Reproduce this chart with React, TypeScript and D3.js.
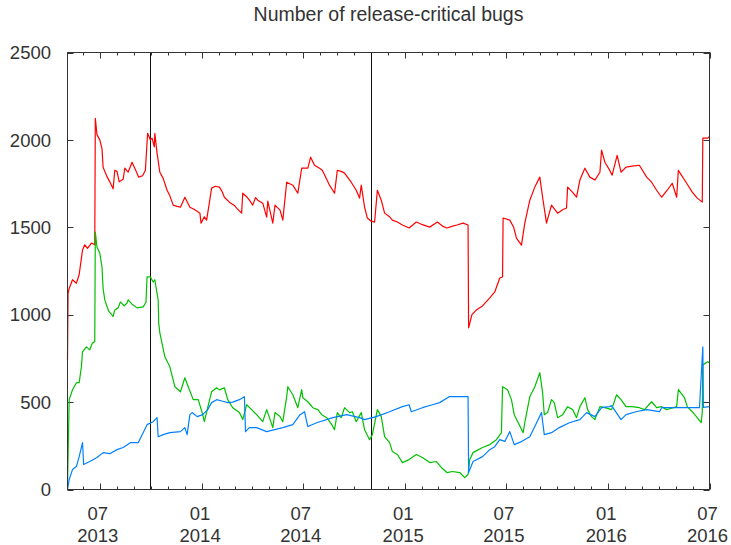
import { useEffect, useRef } from "react";
import * as d3 from "d3";

const WIDTH = 731;
const HEIGHT = 545;
const MARGIN = { top: 52.5, right: 21.5, bottom: 55.5, left: 67.5 };
const FONT = "'Liberation Sans', Arial, sans-serif";

const TITLE = "Number of release-critical bugs";
const X_DOMAIN = ["2013-05-04", "2016-07-01"];
const Y_TICKS = [0, 500, 1000, 1500, 2000, 2500];
// dates of the two black vertical markers
const MARKERS = ["2013-09-30", "2014-10-31"];

type Pt = [string, number];

// release-critical bug counts
const RED: Pt[] = [
  ["2013-05-04", 740], ["2013-05-05", 1120], ["2013-05-07", 1150], ["2013-05-13", 1200],
  ["2013-05-20", 1180], ["2013-05-25", 1230], ["2013-05-31", 1370], ["2013-06-04", 1400],
  ["2013-06-09", 1380], ["2013-06-16", 1410], ["2013-06-22", 1400], ["2013-06-23", 2123],
  ["2013-06-26", 2030], ["2013-07-01", 2000], ["2013-07-05", 1950], ["2013-07-07", 1844],
  ["2013-07-14", 1790], ["2013-07-19", 1760], ["2013-07-25", 1720], ["2013-07-28", 1826],
  ["2013-08-01", 1820], ["2013-08-05", 1760], ["2013-08-12", 1775], ["2013-08-15", 1838],
  ["2013-08-21", 1815], ["2013-08-28", 1872], ["2013-09-03", 1830], ["2013-09-09", 1787],
  ["2013-09-16", 1795], ["2013-09-21", 1826], ["2013-09-25", 2038], ["2013-09-30", 2000],
  ["2013-10-03", 2010], ["2013-10-07", 1960], ["2013-10-08", 2038], ["2013-10-12", 1924],
  ["2013-10-17", 1815], ["2013-10-23", 1780], ["2013-10-30", 1712], ["2013-11-04", 1680],
  ["2013-11-10", 1627], ["2013-11-17", 1620], ["2013-11-23", 1615], ["2013-12-01", 1672],
  ["2013-12-10", 1615], ["2013-12-19", 1600], ["2013-12-28", 1581], ["2013-12-30", 1524],
  ["2014-01-05", 1560], ["2014-01-09", 1541], ["2014-01-14", 1640], ["2014-01-18", 1724],
  ["2014-01-25", 1735], ["2014-02-01", 1730], ["2014-02-05", 1710], ["2014-02-10", 1672],
  ["2014-02-19", 1644], ["2014-02-28", 1625], ["2014-03-04", 1610], ["2014-03-13", 1581],
  ["2014-03-15", 1695], ["2014-03-22", 1675], ["2014-03-27", 1655], ["2014-04-02", 1627],
  ["2014-04-07", 1670], ["2014-04-11", 1655], ["2014-04-20", 1638], ["2014-04-27", 1558],
  ["2014-04-29", 1650], ["2014-05-04", 1580], ["2014-05-08", 1524], ["2014-05-12", 1627],
  ["2014-05-21", 1598], ["2014-05-26", 1541], ["2014-06-02", 1758], ["2014-06-13", 1741],
  ["2014-06-22", 1695], ["2014-06-29", 1838], ["2014-07-10", 1838], ["2014-07-15", 1901],
  ["2014-07-22", 1855], ["2014-07-31", 1838], ["2014-08-05", 1826], ["2014-08-12", 1780],
  ["2014-08-18", 1741], ["2014-08-27", 1695], ["2014-09-01", 1826], ["2014-09-08", 1820],
  ["2014-09-14", 1810], ["2014-09-26", 1758], ["2014-10-05", 1712], ["2014-10-11", 1667],
  ["2014-10-14", 1741], ["2014-10-20", 1615], ["2014-10-25", 1553], ["2014-11-01", 1535],
  ["2014-11-07", 1530], ["2014-11-12", 1712], ["2014-11-19", 1655], ["2014-11-25", 1581],
  ["2014-12-04", 1560], ["2014-12-09", 1541], ["2014-12-18", 1530], ["2014-12-27", 1513],
  ["2015-01-08", 1496], ["2015-01-21", 1530], ["2015-02-01", 1515], ["2015-02-14", 1501],
  ["2015-02-28", 1530], ["2015-03-10", 1505], ["2015-03-17", 1496], ["2015-03-26", 1505],
  ["2015-04-04", 1513], ["2015-04-15", 1524], ["2015-04-24", 1513], ["2015-04-25", 925],
  ["2015-05-01", 1000], ["2015-05-10", 1030], ["2015-05-20", 1050], ["2015-06-02", 1096],
  ["2015-06-11", 1130], ["2015-06-20", 1210], ["2015-06-25", 1216], ["2015-06-26", 1553],
  ["2015-07-08", 1541], ["2015-07-15", 1500], ["2015-07-20", 1438], ["2015-07-29", 1398],
  ["2015-08-04", 1524], ["2015-08-13", 1655], ["2015-08-22", 1730], ["2015-08-31", 1787],
  ["2015-09-05", 1672], ["2015-09-12", 1524], ["2015-09-21", 1627], ["2015-10-02", 1581],
  ["2015-10-11", 1600], ["2015-10-18", 1610], ["2015-10-20", 1730], ["2015-10-29", 1700],
  ["2015-11-05", 1672], ["2015-11-11", 1770], ["2015-11-20", 1838], ["2015-11-29", 1787],
  ["2015-12-08", 1770], ["2015-12-17", 1815], ["2015-12-20", 1941], ["2015-12-26", 1872],
  ["2016-01-03", 1830], ["2016-01-08", 1798], ["2016-01-17", 1912], ["2016-01-24", 1815],
  ["2016-02-02", 1844], ["2016-02-13", 1850], ["2016-02-26", 1855], ["2016-03-10", 1787],
  ["2016-03-19", 1758], ["2016-03-28", 1712], ["2016-04-06", 1672], ["2016-04-16", 1712],
  ["2016-04-25", 1752], ["2016-05-03", 1672], ["2016-05-06", 1826], ["2016-05-21", 1752],
  ["2016-05-31", 1701], ["2016-06-09", 1667], ["2016-06-18", 1644], ["2016-06-19", 2010],
  ["2016-06-28", 2010], ["2016-07-01", 2020],
];

const GREEN: Pt[] = [
  ["2013-05-04", 20], ["2013-05-05", 180], ["2013-05-07", 514], ["2013-05-13", 571],
  ["2013-05-20", 611], ["2013-05-25", 611], ["2013-05-29", 702], ["2013-05-31", 788],
  ["2013-06-07", 816], ["2013-06-13", 799], ["2013-06-18", 839], ["2013-06-22", 845],
  ["2013-06-23", 1473], ["2013-06-26", 1387], ["2013-07-01", 1353], ["2013-07-05", 1273],
  ["2013-07-07", 1150], ["2013-07-10", 1085], ["2013-07-17", 1020], ["2013-07-25", 990],
  ["2013-07-28", 1027], ["2013-08-03", 1039], ["2013-08-07", 1073], ["2013-08-14", 1050],
  ["2013-08-19", 1067], ["2013-08-21", 1085], ["2013-08-28", 1060], ["2013-09-06", 1039],
  ["2013-09-17", 1045], ["2013-09-22", 1070], ["2013-09-24", 1216], ["2013-09-30", 1216],
  ["2013-10-05", 1187], ["2013-10-08", 1200], ["2013-10-12", 1120], ["2013-10-14", 1085],
  ["2013-10-15", 950], ["2013-10-17", 896], ["2013-10-26", 759], ["2013-11-04", 702],
  ["2013-11-13", 588], ["2013-11-23", 559], ["2013-12-01", 639], ["2013-12-07", 588],
  ["2013-12-16", 514], ["2013-12-25", 514], ["2014-01-01", 440], ["2014-01-05", 388],
  ["2014-01-11", 468], ["2014-01-18", 559], ["2014-01-27", 582], ["2014-02-01", 570],
  ["2014-02-10", 582], ["2014-02-16", 514], ["2014-02-25", 468], ["2014-03-09", 440],
  ["2014-03-15", 400], ["2014-03-22", 485], ["2014-03-31", 457], ["2014-04-09", 428],
  ["2014-04-20", 388], ["2014-04-27", 457], ["2014-05-02", 411], ["2014-05-08", 354],
  ["2014-05-12", 440], ["2014-05-21", 418], ["2014-05-26", 388], ["2014-06-02", 531],
  ["2014-06-04", 588], ["2014-06-13", 542], ["2014-06-22", 468], ["2014-06-29", 571],
  ["2014-07-01", 525], ["2014-07-10", 502], ["2014-07-19", 468], ["2014-07-28", 457],
  ["2014-08-04", 428], ["2014-08-13", 411], ["2014-08-22", 371], ["2014-08-27", 342],
  ["2014-09-01", 440], ["2014-09-08", 411], ["2014-09-14", 468], ["2014-09-23", 440],
  ["2014-09-28", 445], ["2014-10-05", 388], ["2014-10-14", 440], ["2014-10-20", 342],
  ["2014-10-29", 285], ["2014-11-03", 314], ["2014-11-12", 457], ["2014-11-19", 417],
  ["2014-11-25", 302], ["2014-12-04", 268], ["2014-12-09", 217], ["2014-12-18", 200],
  ["2014-12-27", 154], ["2015-01-08", 171], ["2015-01-21", 200], ["2015-02-01", 183],
  ["2015-02-14", 154], ["2015-02-26", 160], ["2015-03-07", 126], ["2015-03-17", 97],
  ["2015-03-27", 103], ["2015-04-09", 97], ["2015-04-18", 68], ["2015-04-24", 86],
  ["2015-04-27", 171], ["2015-05-03", 211], ["2015-05-20", 240], ["2015-06-02", 257],
  ["2015-06-14", 285], ["2015-06-23", 325], ["2015-06-25", 588], ["2015-07-04", 571],
  ["2015-07-11", 514], ["2015-07-16", 428], ["2015-07-25", 371], ["2015-08-01", 325],
  ["2015-08-04", 382], ["2015-08-13", 531], ["2015-08-22", 588], ["2015-08-31", 668],
  ["2015-09-05", 554], ["2015-09-08", 428], ["2015-09-14", 440], ["2015-09-21", 514],
  ["2015-09-26", 497], ["2015-10-02", 411], ["2015-10-11", 428], ["2015-10-20", 474],
  ["2015-10-29", 457], ["2015-11-05", 411], ["2015-11-11", 474], ["2015-11-20", 525],
  ["2015-11-25", 457], ["2015-12-02", 417], ["2015-12-08", 400], ["2015-12-17", 474],
  ["2015-12-26", 468], ["2016-01-07", 457], ["2016-01-16", 542], ["2016-01-24", 514],
  ["2016-02-02", 474], ["2016-02-13", 474], ["2016-02-26", 468], ["2016-03-06", 457],
  ["2016-03-19", 502], ["2016-03-28", 468], ["2016-04-06", 474], ["2016-04-15", 457],
  ["2016-04-24", 465], ["2016-05-03", 474], ["2016-05-06", 571], ["2016-05-17", 525],
  ["2016-05-22", 474], ["2016-05-31", 445], ["2016-06-09", 411], ["2016-06-16", 382],
  ["2016-06-18", 440], ["2016-06-19", 713], ["2016-06-28", 731], ["2016-07-01", 725],
];

const BLUE: Pt[] = [
  ["2013-05-04", 0], ["2013-05-07", 57], ["2013-05-13", 114], ["2013-05-20", 131],
  ["2013-05-25", 188], ["2013-05-31", 268], ["2013-06-02", 143], ["2013-06-13", 160],
  ["2013-06-26", 183], ["2013-07-07", 211], ["2013-07-19", 205], ["2013-08-01", 228],
  ["2013-08-12", 240], ["2013-08-25", 268], ["2013-09-08", 268], ["2013-09-17", 325],
  ["2013-09-24", 371], ["2013-10-05", 388], ["2013-10-12", 411], ["2013-10-14", 302],
  ["2013-10-23", 314], ["2013-11-04", 325], ["2013-11-23", 331], ["2013-12-01", 354],
  ["2013-12-05", 314], ["2013-12-10", 428], ["2013-12-14", 440], ["2013-12-23", 417],
  ["2014-01-02", 428], ["2014-01-11", 457], ["2014-01-18", 497], ["2014-01-27", 514],
  ["2014-02-07", 505], ["2014-02-16", 497], ["2014-02-25", 500], ["2014-03-09", 514],
  ["2014-03-18", 531], ["2014-03-20", 331], ["2014-03-27", 354], ["2014-04-09", 354],
  ["2014-04-27", 331], ["2014-05-26", 354], ["2014-06-13", 371], ["2014-06-26", 428],
  ["2014-07-04", 445], ["2014-07-10", 360], ["2014-07-26", 382], ["2014-08-24", 411],
  ["2014-09-18", 428], ["2014-10-11", 411], ["2014-10-20", 400], ["2014-11-10", 417],
  ["2014-12-04", 445], ["2014-12-27", 474], ["2015-01-08", 485], ["2015-01-12", 445],
  ["2015-02-01", 468], ["2015-02-19", 485], ["2015-03-04", 497], ["2015-03-21", 531],
  ["2015-04-15", 531], ["2015-04-24", 531], ["2015-04-25", 97], ["2015-05-03", 160],
  ["2015-05-20", 188], ["2015-06-02", 228], ["2015-06-11", 245], ["2015-06-20", 285],
  ["2015-06-29", 275], ["2015-07-08", 331], ["2015-07-16", 257], ["2015-07-29", 274],
  ["2015-08-13", 302], ["2015-08-22", 360], ["2015-09-03", 440], ["2015-09-08", 314],
  ["2015-09-21", 325], ["2015-10-05", 354], ["2015-10-23", 382], ["2015-11-11", 400],
  ["2015-11-23", 440], ["2015-12-08", 417], ["2015-12-20", 468], ["2016-01-03", 474],
  ["2016-01-07", 480], ["2016-01-24", 400], ["2016-02-02", 428], ["2016-02-20", 445],
  ["2016-03-10", 457], ["2016-04-02", 445], ["2016-04-06", 468], ["2016-05-05", 468],
  ["2016-05-26", 468], ["2016-06-13", 468], ["2016-06-19", 816], ["2016-06-20", 470],
  ["2016-07-01", 474],
];

const SERIES = [
  { key: "red", data: RED, color: "#ff0000" },
  { key: "green", data: GREEN, color: "#00c000" },
  { key: "blue", data: BLUE, color: "#0080ff" },
];

const parseDate = d3.timeParse("%Y-%m-%d");

export default function App() {
  const svgRef = useRef<SVGSVGElement>(null);

  useEffect(() => {
    const svgEl = svgRef.current;
    if (!svgEl) return;
    const svg = d3.select(svgEl);
    svg.selectAll("*").remove();

    const left = MARGIN.left;
    const right = WIDTH - MARGIN.right;
    const top = MARGIN.top;
    const bottom = HEIGHT - MARGIN.bottom;

    const x = d3
      .scaleTime()
      .domain(X_DOMAIN.map((d) => parseDate(d)!) as [Date, Date])
      .range([left, right]);
    const y = d3.scaleLinear().domain([0, 2500]).range([bottom, top]);

    const ink = "#333";

    // title
    svg
      .append("text")
      .attr("x", (left + right) / 2)
      .attr("y", 21)
      .attr("text-anchor", "middle")
      .attr("font-family", FONT)
      .attr("font-size", 19.5)
      .attr("fill", ink)
      .text(TITLE);

    // y ticks (mirrored on the right) + labels
    const yg = svg.append("g");
    Y_TICKS.forEach((t) => {
      const ty = Math.round(y(t)) + 0.5;
      yg.append("line").attr("x1", left).attr("x2", left + 6).attr("y1", ty).attr("y2", ty).attr("stroke", ink);
      yg.append("line").attr("x1", right - 6).attr("x2", right).attr("y1", ty).attr("y2", ty).attr("stroke", ink);
      yg.append("text")
        .attr("x", 51)
        .attr("y", y(t))
        .attr("dy", "0.36em")
        .attr("text-anchor", "end")
        .attr("font-family", FONT)
        .attr("font-size", 18.5)
        .attr("fill", ink)
        .text(t);
    });

    // x ticks: monthly minor, half-yearly major, mirrored on top
    const months = x.ticks(d3.timeMonth.every(1)!);
    const xg = svg.append("g");
    months.forEach((m) => {
      const major = m.getMonth() % 6 === 0;
      const len = major ? 6 : 3;
      const tx = Math.round(x(m)) + 0.5;
      xg.append("line").attr("x1", tx).attr("x2", tx).attr("y1", bottom).attr("y2", bottom - len).attr("stroke", ink);
      xg.append("line").attr("x1", tx).attr("x2", tx).attr("y1", top).attr("y2", top + len).attr("stroke", ink);
      if (major) {
        const lab = xg
          .append("text")
          .attr("text-anchor", "middle")
          .attr("font-family", FONT)
          .attr("font-size", 18.5)
          .attr("fill", ink);
        lab.append("tspan").attr("x", x(m) - 2).attr("y", 519.5).text(d3.timeFormat("%m")(m));
        lab.append("tspan").attr("x", x(m) - 2).attr("y", 541.5).text(d3.timeFormat("%Y")(m));
      }
    });

    // vertical markers
    MARKERS.forEach((d) => {
      const mx = Math.round(x(parseDate(d)!)) + 0.5;
      svg.append("line").attr("x1", mx).attr("x2", mx).attr("y1", top).attr("y2", bottom).attr("stroke", "#111").attr("stroke-width", 1);
    });

    // series
    const line = d3
      .line<Pt>()
      .x((d) => x(parseDate(d[0])!))
      .y((d) => y(d[1]));
    SERIES.forEach((s) => {
      svg
        .append("path")
        .datum(s.data)
        .attr("fill", "none")
        .attr("stroke", s.color)
        .attr("stroke-width", 1.2)
        .attr("stroke-linejoin", "round")
        .attr("d", line);
    });

    // frame
    svg
      .append("rect")
      .attr("x", left)
      .attr("y", top)
      .attr("width", right - left)
      .attr("height", bottom - top)
      .attr("fill", "none")
      .attr("stroke", ink)
      .attr("stroke-width", 1);
  }, []);

  return (
    <>
      <style>{`body { margin: 0; }`}</style>
      <svg ref={svgRef} width={WIDTH} height={HEIGHT} style={{ display: "block", background: "#fff" }} />
    </>
  );
}
